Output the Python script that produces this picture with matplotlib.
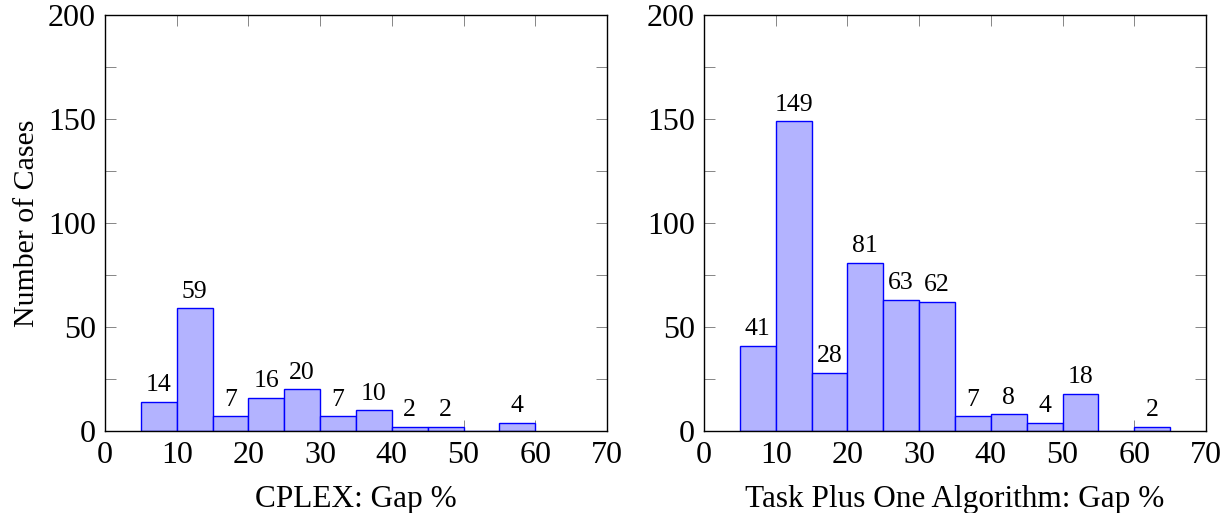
import matplotlib
matplotlib.use("Agg")
import matplotlib.pyplot as plt

# Histogram bins (left edges, width 5) and counts
cplex_bins = [5, 10, 15, 20, 25, 30, 35, 40, 45, 50, 55]
cplex_counts = [14, 59, 7, 16, 20, 7, 10, 2, 2, 0, 4]

tpo_bins = [5, 10, 15, 20, 25, 30, 35, 40, 45, 50, 55, 60]
tpo_counts = [41, 149, 28, 81, 63, 62, 7, 8, 4, 18, 0, 2]

bin_width = 5
xticks = [0, 10, 20, 30, 40, 50, 60, 70]
yticks = [0, 25, 50, 75, 100, 125, 150, 175, 200]
ytick_labels = ["0", "", "50", "", "100", "", "150", "", "200"]

plt.rcParams['font.family'] = ['Liberation Serif', 'DejaVu Serif']

fig = plt.figure(figsize=(12.28, 5.13), dpi=100)
W, H = 1228, 513
ax1 = fig.add_axes([105 / W, 1 - 431 / H, (607 - 105) / W, (431 - 15) / H])
ax2 = fig.add_axes([704 / W, 1 - 431 / H, (1206 - 704) / W, (431 - 15) / H])

def draw(ax, bins, counts, xlabel):
    ax.bar(bins, counts, width=bin_width, align='edge',
           color='#b3b3ff', edgecolor='#0000ff', linewidth=1.0, zorder=2)
    for x, c in zip(bins, counts):
        if c == 0:
            continue
        ax.annotate(str(c), (x + bin_width / 2, c), xytext=(0, 4),
                    textcoords='offset points', ha='center', va='bottom',
                    fontsize=18.5)
    ax.set_xlim(0, 70)
    ax.set_ylim(0, 200)
    ax.set_xticks(xticks)
    ax.set_yticks(yticks)
    ax.set_yticklabels(ytick_labels)
    ax.tick_params(direction='in', length=8, width=0.6, color='0.45',
                   top=True, right=True, labelsize=23)
    ax.tick_params(axis='x', pad=7)
    ax.tick_params(axis='y', pad=6.5)
    ax.set_xlabel(xlabel, fontsize=22.5, labelpad=11)
    for s in ax.spines.values():
        s.set_linewidth(1.0)
        s.set_zorder(3)

draw(ax1, cplex_bins, cplex_counts, 'CPLEX: Gap %')
draw(ax2, tpo_bins, tpo_counts, 'Task Plus One Algorithm: Gap %')
ax1.set_ylabel('Number of Cases', fontsize=21.5, labelpad=6)

fig.savefig('out.png', dpi=100)
